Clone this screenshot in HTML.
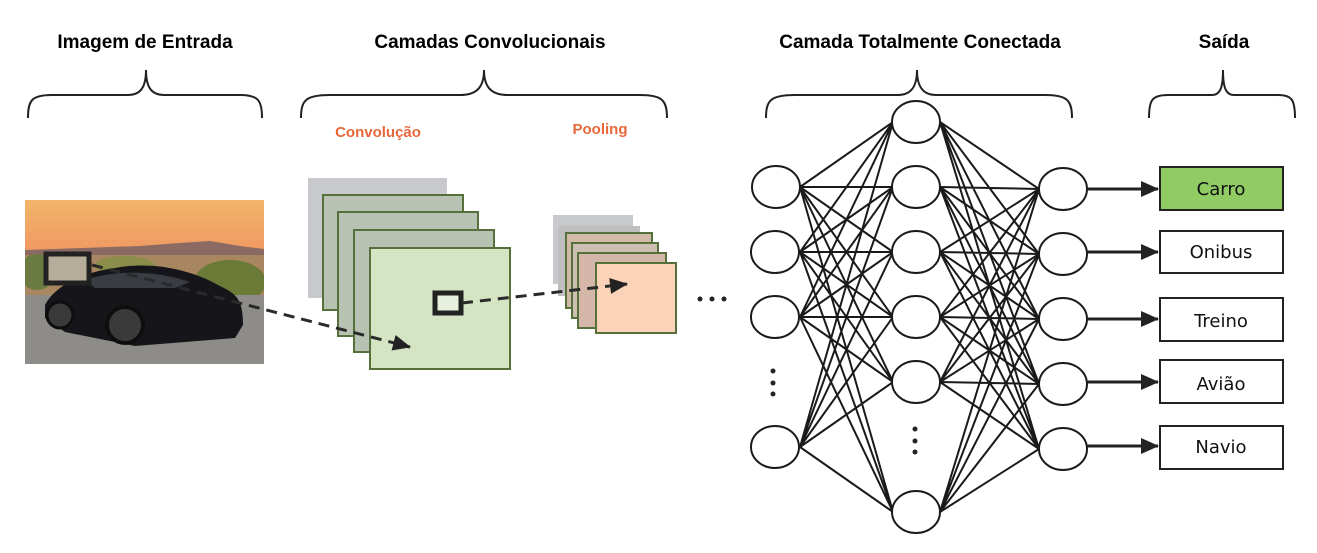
<!DOCTYPE html>
<html><head><meta charset="utf-8"><style>
html,body{margin:0;padding:0;background:#fff;}
svg{display:block;}
.t{font-family:"Liberation Sans",sans-serif;font-weight:bold;font-size:19px;fill:#000;}
.o{font-family:"Liberation Sans",sans-serif;font-weight:bold;font-size:15px;fill:#e8673a;}
.b{font-family:"DejaVu Sans","Liberation Sans",sans-serif;font-size:18px;fill:#111;}
</style></head><body>
<svg width="1317" height="553" viewBox="0 0 1317 553" xmlns="http://www.w3.org/2000/svg">
<defs>
<linearGradient id="sky" x1="0" y1="0" x2="0" y2="1">
<stop offset="0" stop-color="#f2b46a"/><stop offset="0.5" stop-color="#ee8a5e"/><stop offset="1" stop-color="#e9906e"/>
</linearGradient>
<marker id="ah2" markerWidth="18" markerHeight="16" refX="17" refY="8" orient="auto" markerUnits="userSpaceOnUse">
<path d="M0,0 L18,8 L0,16 z" fill="#222"/></marker>
</defs>

<text class="t" x="145" y="48" text-anchor="middle">Imagem de Entrada</text>
<text class="t" x="490" y="48" text-anchor="middle">Camadas Convolucionais</text>
<text class="t" x="920" y="48" text-anchor="middle">Camada Totalmente Conectada</text>
<text class="t" x="1224" y="48" text-anchor="middle">Saída</text>
<text class="o" x="378" y="137" text-anchor="middle">Convolução</text>
<text class="o" x="600" y="134" text-anchor="middle">Pooling</text>

<g fill="none" stroke="#222" stroke-width="2">
<path d="M28,118 C28,100 32,95 52,95 L128,95 C140,95 146,88 146,70 C146,88 152,95 164,95 L240,95 C258,95 262,100 262,118"/>
<path d="M301,118 C301,100 306,95 330,95 L460,95 C476,95 484,88 484,70 C484,88 492,95 508,95 L640,95 C662,95 667,100 667,118"/>
<path d="M766,118 C766,100 771,95 795,95 L898,95 C910,95 917,88 917,70 C917,88 924,95 936,95 L1045,95 C1067,95 1072,100 1072,118"/>
<path d="M1149,118 C1149,100 1152,95 1168,95 L1212,95 C1220,95 1223,88 1223,70 C1223,88 1226,95 1234,95 L1278,95 C1292,95 1295,100 1295,118"/>
</g>

<!-- image -->
<svg x="25" y="200" width="239" height="164" viewBox="0 0 239 164">
<rect x="0" y="0" width="239" height="164" fill="url(#sky)"/>
<path d="M0,50 L115,46 L155,43 L185,41 L215,46 L239,49 L239,60 L0,60z" fill="#8a6a62"/>
<rect x="0" y="55" width="239" height="45" fill="#a88660"/>
<ellipse cx="205" cy="82" rx="36" ry="22" fill="#6c7a38"/>
<ellipse cx="12" cy="72" rx="18" ry="18" fill="#6a7a40"/>
<ellipse cx="100" cy="66" rx="30" ry="10" fill="#8a8e4a"/>
<rect x="0" y="95" width="239" height="69" fill="#8e8c88"/>
<path d="M20,105 C30,85 60,72 90,68 C120,62 160,66 195,86 C212,94 218,100 218,125 L210,138 L110,146 L40,132 L20,118z" fill="#16161a"/>
<path d="M60,80 C90,70 130,70 165,82 L150,88 L70,88z" fill="#3a3c44"/>
<circle cx="100" cy="125" r="18" fill="#3a3a3a" stroke="#0e0e0e" stroke-width="4"/>
<circle cx="35" cy="115" r="13" fill="#3a3a3a" stroke="#0e0e0e" stroke-width="3"/>
</svg>
<rect x="46" y="254" width="43" height="29" fill="#b5ad9a" stroke="#222" stroke-width="5"/>

<!-- conv stack -->
<rect x="308" y="178" width="139" height="120" fill="#c8c9cc"/>
<g stroke="#55703a" stroke-width="2">
<rect x="323" y="195" width="140" height="115" fill="#b7c2b3"/>
<rect x="338" y="212" width="140" height="124" fill="#b7c2b3"/>
<rect x="354" y="230" width="140" height="122" fill="#b7c2b3"/>
<rect x="370" y="248" width="140" height="121" fill="#d5e4c2"/>
</g>
<rect x="435" y="293" width="26" height="20" fill="#e6f0dc" stroke="#222" stroke-width="5"/>

<!-- pooling -->
<rect x="553" y="215" width="80" height="69" fill="#c8c9cc"/>
<rect x="558" y="226" width="82" height="70" fill="#c0bfc0"/>
<g stroke="#55703a" stroke-width="2">
<rect x="566" y="233" width="86" height="75" fill="#d3b9a8"/>
<rect x="572" y="243" width="86" height="75" fill="#cdbfb2"/>
<rect x="578" y="253" width="88" height="75" fill="#d4b7a8"/>
<rect x="596" y="263" width="80" height="70" fill="#fbd3b8"/>
</g>

<g stroke="#2a2a2a" stroke-width="3" stroke-dasharray="11,7" fill="none">
<path d="M92,265 L410,347" marker-end="url(#ah2)"/>
<path d="M462,303 L627,284" marker-end="url(#ah2)"/>
</g>

<g fill="#222">
<circle cx="700" cy="299" r="2.5"/><circle cx="712" cy="299" r="2.5"/><circle cx="724" cy="299" r="2.5"/>
<circle cx="773" cy="371" r="2.5"/><circle cx="773" cy="383" r="2.5"/><circle cx="773" cy="394" r="2.5"/>
<circle cx="915" cy="429" r="2.5"/><circle cx="915" cy="441" r="2.5"/><circle cx="915" cy="452" r="2.5"/>
</g>

<!-- network edges -->
<g stroke="#1a1a1a" stroke-width="2">
<path d="M800,187L893,122M800,187L893,187M800,187L893,252M800,187L893,317M800,187L893,382M800,187L893,512
M800,252L893,122M800,252L893,187M800,252L893,252M800,252L893,317M800,252L893,382M800,252L893,512
M800,317L893,122M800,317L893,187M800,317L893,252M800,317L893,317M800,317L893,382M800,317L893,512
M800,447L893,122M800,447L893,187M800,447L893,252M800,447L893,317M800,447L893,382M800,447L893,512"/>
<path d="M940,122L1039,189M940,122L1039,254M940,122L1039,319M940,122L1039,384M940,122L1039,449
M940,187L1039,189M940,187L1039,254M940,187L1039,319M940,187L1039,384M940,187L1039,449
M940,252L1039,189M940,252L1039,254M940,252L1039,319M940,252L1039,384M940,252L1039,449
M940,317L1039,189M940,317L1039,254M940,317L1039,319M940,317L1039,384M940,317L1039,449
M940,382L1039,189M940,382L1039,254M940,382L1039,319M940,382L1039,384M940,382L1039,449
M940,512L1039,189M940,512L1039,254M940,512L1039,319M940,512L1039,384M940,512L1039,449"/>
</g>
<g fill="#fff" stroke="#1a1a1a" stroke-width="2">
<ellipse cx="776" cy="187" rx="24" ry="21"/>
<ellipse cx="775" cy="252" rx="24" ry="21"/>
<ellipse cx="775" cy="317" rx="24" ry="21"/>
<ellipse cx="775" cy="447" rx="24" ry="21"/>
<ellipse cx="916" cy="122" rx="24" ry="21"/>
<ellipse cx="916" cy="187" rx="24" ry="21"/>
<ellipse cx="916" cy="252" rx="24" ry="21"/>
<ellipse cx="916" cy="317" rx="24" ry="21"/>
<ellipse cx="916" cy="382" rx="24" ry="21"/>
<ellipse cx="916" cy="512" rx="24" ry="21"/>
<ellipse cx="1063" cy="189" rx="24" ry="21"/>
<ellipse cx="1063" cy="254" rx="24" ry="21"/>
<ellipse cx="1063" cy="319" rx="24" ry="21"/>
<ellipse cx="1063" cy="384" rx="24" ry="21"/>
<ellipse cx="1063" cy="449" rx="24" ry="21"/>
</g>

<g stroke="#222" stroke-width="3">
<line x1="1087" y1="189" x2="1158" y2="189" marker-end="url(#ah2)"/>
<line x1="1087" y1="252" x2="1158" y2="252" marker-end="url(#ah2)"/>
<line x1="1087" y1="319" x2="1158" y2="319" marker-end="url(#ah2)"/>
<line x1="1087" y1="382" x2="1158" y2="382" marker-end="url(#ah2)"/>
<line x1="1087" y1="446" x2="1158" y2="446" marker-end="url(#ah2)"/>
</g>
<g stroke="#222" stroke-width="2">
<rect x="1160" y="167" width="123" height="43" fill="#90cc63"/>
<rect x="1160" y="231" width="123" height="42" fill="#fff"/>
<rect x="1160" y="298" width="123" height="43" fill="#fff"/>
<rect x="1160" y="360" width="123" height="43" fill="#fff"/>
<rect x="1160" y="426" width="123" height="43" fill="#fff"/>
</g>
<text class="b" x="1221" y="195" text-anchor="middle">Carro</text>
<text class="b" x="1221" y="258" text-anchor="middle">Onibus</text>
<text class="b" x="1221" y="327" text-anchor="middle">Treino</text>
<text class="b" x="1221" y="390" text-anchor="middle">Avião</text>
<text class="b" x="1221" y="453" text-anchor="middle">Navio</text>
</svg>
</body></html>
